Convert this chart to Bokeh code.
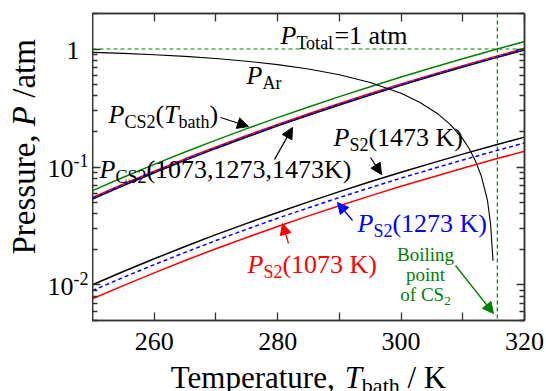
import math
from bokeh.plotting import figure
from bokeh.layouts import row, column
from bokeh.models import Label, Arrow, NormalHead, FixedTicker, LinearAxis, LogAxis, Span, Range1d
from bokeh.embed import file_html
from bokeh.resources import INLINE

# ---------------- data ----------------
T = [250, 255, 260, 265, 270, 275, 280, 285, 290, 295, 300, 305, 310, 315, 320]
p_cs2_bath = [0.0631, 0.0819, 0.1053, 0.1340, 0.1690, 0.2113, 0.2623, 0.3229, 0.3948,
              0.4795, 0.5785, 0.6936, 0.8269, 0.980, 1.156]
p_cs2_1073 = [0.0552, 0.0717, 0.0921, 0.1173, 0.1479, 0.1849, 0.2295, 0.2825, 0.3455,
              0.4196, 0.5062, 0.6069, 0.7235, 0.8575, 1.0115]
p_cs2_1273 = [0.0543, 0.0704, 0.0906, 0.1152, 0.1453, 0.1817, 0.2256, 0.2777, 0.3395,
              0.4124, 0.4975, 0.5965, 0.7111, 0.8428, 0.9942]
p_cs2_1473 = [0.0536, 0.0696, 0.0895, 0.1139, 0.1437, 0.1796, 0.2230, 0.2745, 0.3356,
              0.4076, 0.4917, 0.5896, 0.7029, 0.8330, 0.9826]
T_ar = [250, 255, 260, 265, 270, 275, 280, 285, 290, 295, 300, 303, 306, 308, 310,
        311, 312, 313, 314, 314.5, 314.9]
p_ar = [0.9369, 0.9181, 0.8947, 0.866, 0.831, 0.7887, 0.7377, 0.6771, 0.6052, 0.5205,
        0.4215, 0.354, 0.281, 0.229, 0.1731, 0.144, 0.114, 0.084, 0.052, 0.033, 0.016]
p_s2_1473 = [0.01005, 0.0130, 0.01667, 0.0212, 0.0267, 0.0333, 0.0412, 0.0506, 0.0618,
             0.0749, 0.0902, 0.1079, 0.1285, 0.1521, 0.1791]
p_s2_1273 = [0.00896, 0.0116, 0.01487, 0.0189, 0.0238, 0.0297, 0.0368, 0.0451, 0.0551,
             0.0668, 0.0805, 0.0962, 0.1146, 0.1357, 0.1598]
p_s2_1073 = [0.00764, 0.00988, 0.01267, 0.01611, 0.0203, 0.0253, 0.0313, 0.0385, 0.0470,
             0.0569, 0.0686, 0.0820, 0.0977, 0.1156, 0.1361]
T_boil = 315.6
P_total = 1.0
x_ticks = [260, 270, 280, 290, 300, 310, 320]
x_tick_labels = {260: "260", 280: "280", 300: "300", 320: "320"}
y_ticks = [0.01, 0.1, 1]
y_minor = [0.005, 0.006, 0.007, 0.008, 0.009, 0.02, 0.03, 0.04, 0.05, 0.06, 0.07, 0.08,
           0.09, 0.2, 0.3, 0.4, 0.5, 0.6, 0.7, 0.8, 0.9, 2]
y_tick_labels = [(1, "1", ""), (0.1, "10", "-1"), (0.01, "10", "-2")]

# ---------------- layout ----------------
X0, X1 = 250, 320
Y0, Y1 = 0.005, 2
FL, FT, FW, FH = 92, 13, 432, 307
W, H = 546, 391
FR = W - FL - FW          # right border of main plot
MB = 2                    # bottom border of main plot (holds the bottom tick axis)
BH = H - FT - FH - MB     # height of the strip below (tick labels + x title)
FONT = "Liberation Serif"
GREEN = "#008000"
RED = "#ff0000"
BLUE = "#0000ff"
BLACK = "#000000"
FRAME = "#333333"
BASE_SHIFT = 0.3          # text baseline correction (fraction of font size)

xr = Range1d(X0, X1)
yr = Range1d(Y0, Y1)

p = figure(frame_width=FW, frame_height=FH, x_range=xr, y_range=yr, y_axis_type="log",
           output_backend="svg", toolbar_location=None, title=None,
           min_border_left=0, min_border_right=FR, min_border_top=FT, min_border_bottom=MB)
p.grid.visible = False
p.outline_line_color = FRAME
p.outline_line_width = 1.5

xa = p.xaxis[0]
xa.ticker = FixedTicker(ticks=x_ticks, minor_ticks=[])
xa.major_label_overrides = {t: "" for t in x_ticks}
ya = p.yaxis[0]
ya.ticker = FixedTicker(ticks=y_ticks, minor_ticks=y_minor)
ya.major_label_overrides = {t: "" for t in y_ticks}

top = LinearAxis(ticker=FixedTicker(ticks=x_ticks, minor_ticks=[]),
                 major_label_overrides={t: "" for t in x_ticks})
right = LogAxis(ticker=FixedTicker(ticks=y_ticks, minor_ticks=y_minor),
                major_label_overrides={t: "" for t in y_ticks})
p.add_layout(top, "above")
p.add_layout(right, "right")

for ax in [xa, ya, top, right]:
    ax.axis_label = None
    ax.major_tick_in = 8
    ax.major_tick_out = 0
    ax.minor_tick_in = 5
    ax.minor_tick_out = 0
    ax.axis_line_color = FRAME
    ax.axis_line_width = 1.5
    ax.major_tick_line_color = FRAME
    ax.major_tick_line_width = 1.3
    ax.minor_tick_line_color = FRAME
    ax.minor_tick_line_width = 1.3
    ax.major_label_text_font = FONT
    ax.major_label_standoff = 0
    ax.major_label_text_font_size = "1px"

# ---------------- reference lines ----------------
p.add_layout(Span(location=P_total, dimension="width", line_color=GREEN,
                  line_dash="4 3", line_width=1.2))
p.add_layout(Span(location=T_boil, dimension="height", line_color=GREEN,
                  line_dash="4 3", line_width=1.2))

# ---------------- curves ----------------
p.line(T, p_cs2_bath, line_color=GREEN, line_width=1.5)
p.line(T, p_cs2_1473, line_color=BLACK, line_width=1.5)
p.line(T, p_cs2_1073, line_color=RED, line_width=1.5)
p.line(T, p_cs2_1273, line_color=BLUE, line_width=1.5, line_dash="4 3")
p.line(T_ar, p_ar, line_color=BLACK, line_width=1.1)
p.line(T, p_s2_1473, line_color=BLACK, line_width=1.5)
p.line(T, p_s2_1073, line_color=RED, line_width=1.5)
p.line(T, p_s2_1273, line_color=BLUE, line_width=1.5, line_dash="4 3")

# ---------------- side strips (y title + y tick labels; x tick labels + x title) -----
left = figure(frame_width=FL, frame_height=FH, x_range=Range1d(0, FL), y_range=yr,
              y_axis_type="log", output_backend="svg", toolbar_location=None, title=None,
              min_border_left=0, min_border_right=0, min_border_top=FT,
              min_border_bottom=H - FT - FH)
XB1 = X1 + FR / FW * (X1 - X0)   # strip spans the frame plus the right border
bottom = figure(frame_width=FW + FR, frame_height=BH, x_range=Range1d(X0, XB1),
                y_range=Range1d(0, BH), output_backend="svg", toolbar_location=None,
                title=None, min_border_left=0, min_border_right=0, min_border_top=0,
                min_border_bottom=0)
for f in (left, bottom):
    f.axis.visible = False
    f.grid.visible = False
    f.outline_line_color = None

# ---------------- text helpers ----------------
WREG = {' ': 250, '(': 333, ')': 333, ',': 250, '/': 278, '=': 564, '-': 333,
        'A': 722, 'B': 667, 'C': 667, 'K': 722, 'P': 556, 'S': 556, 'T': 611,
        'a': 444, 'b': 500, 'e': 444, 'f': 333, 'g': 500, 'h': 500, 'i': 278,
        'l': 278, 'm': 778, 'n': 500, 'o': 500, 'p': 500, 'r': 333, 's': 389,
        't': 278, 'u': 500}
WITA = {'P': 611, 'T': 556}


def tw(s, size, italic=False):
    tot = 0
    for c in s:
        if c.isdigit():
            tot += 500
        elif italic and c in WITA:
            tot += WITA[c]
        else:
            tot += WREG.get(c, 500)
    return tot * size / 1000.0


def px_x(px):
    return X0 + (px - FL) / FW * (X1 - X0)


def px_y(py):
    ly = math.log10(Y1) - (py - FT) / FH * (math.log10(Y1) - math.log10(Y0))
    return 10 ** ly


def rich(fig, x, y, parts, color, size=26, anchor="left", angle=0.0, dy0=0):
    sub = round(size * 0.7)
    specs = []
    for text, kind in parts:
        if kind == "n":
            specs.append((text, size, "normal", 0))
        elif kind == "i":
            specs.append((text, size, "italic", 0))
        elif kind == "sub":
            specs.append((text, sub, "normal", -round(size * 0.2)))
        elif kind == "sup":
            specs.append((text, round(size * 0.68), "normal", round(size * 0.38)))
    total = sum(tw(t, s, st == "italic") for t, s, st, _ in specs)
    off = -total / 2 if anchor == "center" else (-total if anchor == "right" else 0)
    for text, s, st, dy in specs:
        lead = len(text) - len(text.lstrip(" "))
        off += tw(" " * lead, s)
        body = text.strip(" ")
        up = dy + dy0 + BASE_SHIFT * s
        if body:
            if angle:
                lab = Label(x=x, y=y, x_offset=-up, y_offset=off, text=body, angle=angle)
            else:
                lab = Label(x=x, y=y, x_offset=off, y_offset=up, text=body)
            lab.text_font = FONT
            lab.text_font_size = f"{s}px"
            lab.text_font_style = st
            lab.text_color = color
            lab.text_align = "left"
            lab.text_baseline = "alphabetic"
            fig.add_layout(lab)
        off += tw(text.lstrip(" "), s, st == "italic")


def note(px, py, parts, color, size=26, anchor="left"):
    rich(p, px_x(px), px_y(py), parts, color, size=size, anchor=anchor)


def arrow(x0, y0, x1, y1, color):
    p.add_layout(Arrow(x_start=px_x(x0), y_start=px_y(y0), x_end=px_x(x1), y_end=px_y(y1),
                       line_color=color, line_width=1.3,
                       end=NormalHead(size=11, fill_color=color, line_color=color)))


# ---------------- annotations ----------------
note(280, 43, [("P", "i"), ("Total", "sub"), ("=1 atm", "n")], BLACK)
note(246, 83, [("P", "i"), ("Ar", "sub")], BLACK)
note(108, 122, [("P", "i"), ("CS2", "sub"), ("(", "n"), ("T", "i"), ("bath", "sub"), (")", "n")], BLACK)
arrow(220, 117, 248, 126, BLACK)
note(99, 177, [("P", "i"), ("CS2", "sub"), ("(1073,1273,1473K)", "n")], BLACK)
arrow(274, 159, 292, 127, BLACK)
note(333, 145, [("P", "i"), ("S2", "sub"), ("(1473 K)", "n")], BLACK)
arrow(370, 157, 381, 174, BLACK)
note(357, 231, [("P", "i"), ("S2", "sub"), ("(1273 K)", "n")], BLUE)
arrow(352, 220, 337, 202, BLUE)
note(247, 272, [("P", "i"), ("S2", "sub"), ("(1073 K)", "n")], RED)
arrow(288, 243, 282, 223, RED)
note(425, 260, [("Boiling", "n")], GREEN, size=19, anchor="center")
note(425, 280, [("point", "n")], GREEN, size=19, anchor="center")
note(425, 300, [("of CS", "n"), ("2", "sub")], GREEN, size=19, anchor="center")
arrow(455, 265, 493, 313, GREEN)

# y tick labels (left strip, sharing the y scale)
for val, base, sup in y_tick_labels:
    if sup:
        rich(left, 88, val, [(base, "n"), (sup, "sup")], BLACK, size=26, anchor="right", dy0=-9)
    else:
        rich(left, 66, val, [(base, "n")], BLACK, size=26, dy0=-9)

# x tick labels (bottom strip, same x scale as the plot)
for t in x_ticks:
    if t in x_tick_labels:
        rich(bottom, t, H - 349, [(x_tick_labels[t], "n")], BLACK, size=26, anchor="center")

# axis titles
rich(bottom, (X0 + X1) / 2, H - 386, [("Temperature, ", "n"), ("T", "i"), ("bath", "sub"),
                                      (" / K", "n")], BLACK, size=31, anchor="center")
rich(left, 33, px_y(254), [("Pressure, ", "n"), ("P", "i"), (" /atm", "n")], BLACK, size=33,
     angle=math.pi / 2)

layout = row(left, column(p, bottom, spacing=0), spacing=0)
open("out.html", "w").write(file_html(layout, INLINE))
